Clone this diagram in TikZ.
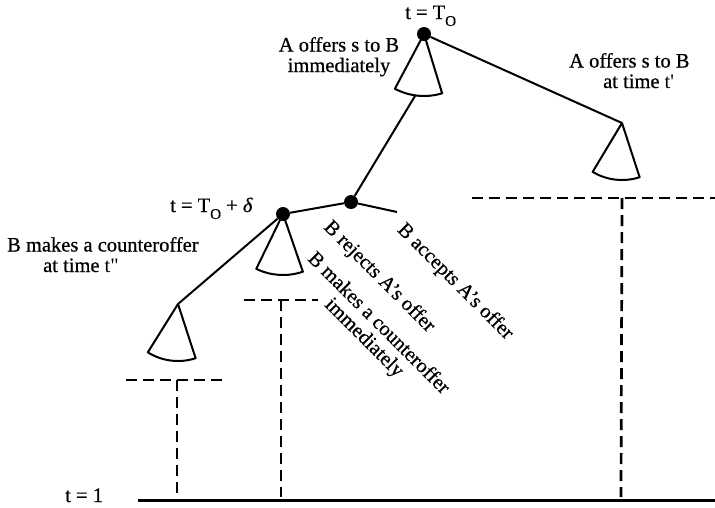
\documentclass[tikz,border=0pt]{standalone}
\usepackage{fontspec}
\setmainfont{Liberation Serif}[FakeBold=0.6,AutoFakeBold=0.6]
\newfontfamily\rawq{Liberation Serif}[Ligatures=TeXOff]
\usetikzlibrary{calc}
\newcommand\subO{\raisebox{-7pt}{\fontsize{15}{15}\selectfont O}}
\newcommand\fanshape[4]{\draw[branch,line join=round] (#1) -- ++(#2:#4) arc[start angle=#2,end angle=#3,radius=#4] -- cycle;}
\begin{document}
\begin{tikzpicture}[x=1pt,y=-1pt,
  every node/.style={font=\fontsize{20.5}{20.5}\selectfont, inner sep=0pt},
  dot/.style={circle,fill=black,minimum size=14pt,inner sep=0pt},
  branch/.style={line width=2pt},
  dashline/.style={line width=2.7pt,dash pattern=on 11pt off 6pt},
  axisline/.style={line width=3pt}]
\useasboundingbox (0,0) rectangle (715,507);
% decision nodes
\node[dot] (T0) at (424,34) {};
\node[dot] (Bn) at (351,202) {};
\node[dot] (Td) at (283,214) {};
\coordinate (F2) at (622,123);
\coordinate (F4) at (178,304);
\coordinate (acc) at (397,212);
\coordinate (f1b) at ($(T0)+(262:62pt)$);
% fans
\fanshape{T0.center}{242}{287}{62pt}
\fanshape{F2}{239}{288}{57pt}
\fanshape{Td.center}{244}{289}{61pt}
\fanshape{F4}{238}{288}{57pt}
% branches
\draw[branch] (T0) -- (F2);
\draw[branch] (f1b) -- (Bn);
\draw[branch] (Bn) -- (acc);
\draw[branch] (Bn) -- (Td);
\draw[branch] (Td) -- (F4);
% dashed T's
\coordinate (h1l) at (472,198); \coordinate (h1r) at (715,198);
\coordinate (h1m) at (622,198); \coordinate (v1b) at (621,497);
\coordinate (h2l) at (244,300); \coordinate (h2r) at (318,300);
\coordinate (h2m) at (281,300); \coordinate (v2b) at (281,497);
\coordinate (h3l) at (126,380); \coordinate (h3r) at (228,380);
\coordinate (h3m) at (177,380); \coordinate (v3b) at (177,497);
\draw[dashline] (h1l) -- (h1r);
\draw[dashline] (h1m) -- (v1b);
\draw[dashline] (h2l) -- (h2r);
\draw[dashline] (h2m) -- (v2b);
\draw[dashline] (h3l) -- (h3r);
\draw[dashline] (h3m) -- (v3b);
% time axis
\coordinate (axl) at (138,500); \coordinate (axr) at (715,500);
\draw[axisline] (axl) -- (axr);
% labels
\node[anchor=base west] (lT0) at (405,19) {t = T\subO};
\node[anchor=base west] (lTd) at (170,212) {t = T\subO{} + \textit{δ}};
\node[anchor=base west] (lt1) at (65,502) {t = 1};
\node[anchor=base, align=center] (lA1) at (339,72) {A offers s to B\\immediately};
\node[anchor=base west, align=left] (lA2) at (569,88) {A offers s to B\\\hspace*{34pt}at time {\rawq t'}};
\node[anchor=base west, align=left] (lB1) at (7,272) {B makes a counteroffer\\\hspace*{36pt}at time {\rawq t"}};
\node[rotate=-45] (lRej) at (379,277) {B rejects A's offer};
\node[rotate=-45] (lAcc) at (455,282) {B accepts A's offer};
\node[rotate=-45, align=center] (lMk) at (371,331) {B makes a counteroffer\\immediately};
\end{tikzpicture}
\end{document}
